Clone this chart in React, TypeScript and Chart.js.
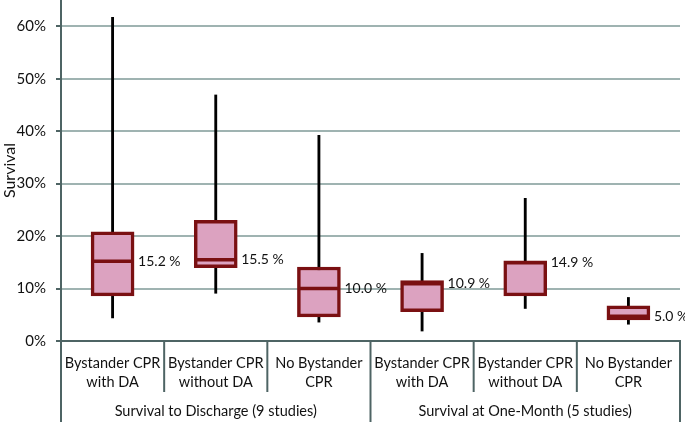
import React, { useEffect, useRef } from "react";
import { Chart, registerables } from "chart.js";

Chart.register(...registerables);

const categories = [
  ["Bystander CPR", "with DA"],
  ["Bystander CPR", "without DA"],
  ["No Bystander", "CPR"],
  ["Bystander CPR", "with DA"],
  ["Bystander CPR", "without DA"],
  ["No Bystander", "CPR"],
];
const groups = ["Survival to Discharge (9 studies)", "Survival at One-Month (5 studies)"];
const groupSizes = [3, 3];

const whiskerLow = [4.4, 9.1, 3.6, 1.9, 6.2, 3.2];
const q1 = [8.6, 14.0, 4.6, 5.6, 8.6, 4.0];
const median = [15.2, 15.5, 10.0, 10.9, 14.9, 4.7];
const q3 = [20.8, 23.0, 14.1, 11.5, 15.3, 6.7];
const whiskerHigh = [61.7, 46.9, 39.2, 16.7, 27.2, 8.3];
const medianLabels = ["15.2 %", "15.5 %", "10.0 %", "10.9 %", "14.9 %", "5.0 %"];

const yTicks = [0, 10, 20, 30, 40, 50, 60];

const FONT = "Lato, 'Open Sans', sans-serif";
const BOX_FILL = "#dca2c0";
const BOX_BORDER = "#7a1012";
const GRID = "#9fb3b1";
const AXIS = "#4e6464";
const BOX_W = 43;

const overlayPlugin = {
  id: "overlay",
  afterDatasetsDraw(chart: any) {
    const { ctx } = chart;
    const xs = chart.scales.x;
    const ys = chart.scales.y;
    ctx.save();
    for (let i = 0; i < median.length; i++) {
      const x = xs.getPixelForValue(i);
      const y = ys.getPixelForValue(median[i]);
      ctx.strokeStyle = BOX_BORDER;
      ctx.lineWidth = 3.5;
      ctx.beginPath();
      ctx.moveTo(x - BOX_W / 2 + 1, y);
      ctx.lineTo(x + BOX_W / 2 - 1, y);
      ctx.stroke();
      ctx.fillStyle = "#111";
      ctx.font = `14px ${FONT}`;
      ctx.textAlign = "left";
      ctx.textBaseline = "middle";
      ctx.fillText(medianLabels[i], x + BOX_W / 2 + 4, y);
    }
    ctx.restore();
  },
  afterDraw(chart: any) {
    const { ctx } = chart;
    const xs = chart.scales.x;
    const area = chart.chartArea;
    const bottom = area.bottom;
    const H = chart.height;
    const n = categories.length;
    const cw = (area.right - area.left) / n;
    ctx.save();
    ctx.strokeStyle = AXIS;
    ctx.lineWidth = 2;
    let idx = 0;
    const groupStarts: number[] = [];
    for (let g = 0; g < groupSizes.length; g++) {
      groupStarts.push(idx);
      idx += groupSizes[g];
    }
    const boundaries = [...groupStarts, n];
    for (let b = 0; b < n + 1; b++) {
      const x = area.left + b * cw;
      const isGroup = boundaries.includes(b);
      ctx.beginPath();
      ctx.moveTo(x, bottom);
      ctx.lineTo(x, isGroup ? H : bottom + 51);
      ctx.stroke();
    }
    ctx.fillStyle = "#111";
    ctx.textAlign = "center";
    ctx.textBaseline = "middle";
    ctx.font = `14.5px ${FONT}`;
    for (let i = 0; i < n; i++) {
      const x = xs.getPixelForValue(i);
      const lines = categories[i];
      lines.forEach((t, k) => ctx.fillText(t, x, bottom + 22 + k * 19));
    }
    for (let g = 0; g < groups.length; g++) {
      const s = groupStarts[g];
      const e = s + groupSizes[g];
      const cx = area.left + ((s + e) / 2) * cw;
      ctx.fillText(groups[g], cx, bottom + 70);
    }
    ctx.restore();
  },
};

export default function App() {
  const ref = useRef<HTMLCanvasElement | null>(null);
  useEffect(() => {
    document.body.style.margin = "0";
    const c = ref.current;
    if (!c) return;
    const chart = new Chart(c, {
      type: "bar",
      data: {
        labels: categories.map((c) => c.join(" ")),
        datasets: [
          {
            label: "box",
            data: q1.map((v, i) => [v, q3[i]]) as any,
            backgroundColor: BOX_FILL,
            borderColor: BOX_BORDER,
            borderWidth: 3.5,
            borderSkipped: false,
            barThickness: BOX_W,
            grouped: false,
            order: 0,
          } as any,
          {
            label: "whisker",
            data: whiskerLow.map((v, i) => [v, whiskerHigh[i]]) as any,
            backgroundColor: "#000",
            borderWidth: 0,
            barThickness: 2.2,
            grouped: false,
            order: 1,
          } as any,
        ],
      },
      options: {
        animation: false,
        responsive: true,
        maintainAspectRatio: false,
        layout: { padding: { left: 0, right: 5, top: 0, bottom: 0 } },
        plugins: { legend: { display: false }, tooltip: { enabled: false } },
        scales: {
          x: {
            type: "category",
            ticks: { display: false },
            grid: { display: false },
            border: { display: true, color: AXIS, width: 2 },
            afterFit: (s: any) => {
              s.height = 81;
              s.paddingLeft = 0;
              s.paddingRight = 0;
            },
          },
          y: {
            min: 0,
            max: 65,
            afterBuildTicks: (s: any) => {
              s.ticks = yTicks.map((v) => ({ value: v }));
            },
            ticks: {
              callback: (v: any) => `${v}%`,
              font: { family: FONT, size: 15 },
              color: "#111",
              padding: 10,
            },
            grid: { color: GRID, lineWidth: 2, tickLength: 5, tickColor: AXIS },
            border: { display: true, color: AXIS, width: 2 },
            title: {
              display: true,
              text: "Survival",
              font: { family: FONT, size: 16 },
              color: "#111",
              padding: 0,
            },
            afterFit: (s: any) => {
              s.width = 61;
              s.paddingTop = 0;
              s.paddingBottom = 0;
            },
          },
        },
      },
      plugins: [overlayPlugin],
    });
    return () => chart.destroy();
  }, []);
  return (
    <div style={{ width: 685, height: 422, position: "relative" }}>
      <canvas ref={ref} />
    </div>
  );
}
